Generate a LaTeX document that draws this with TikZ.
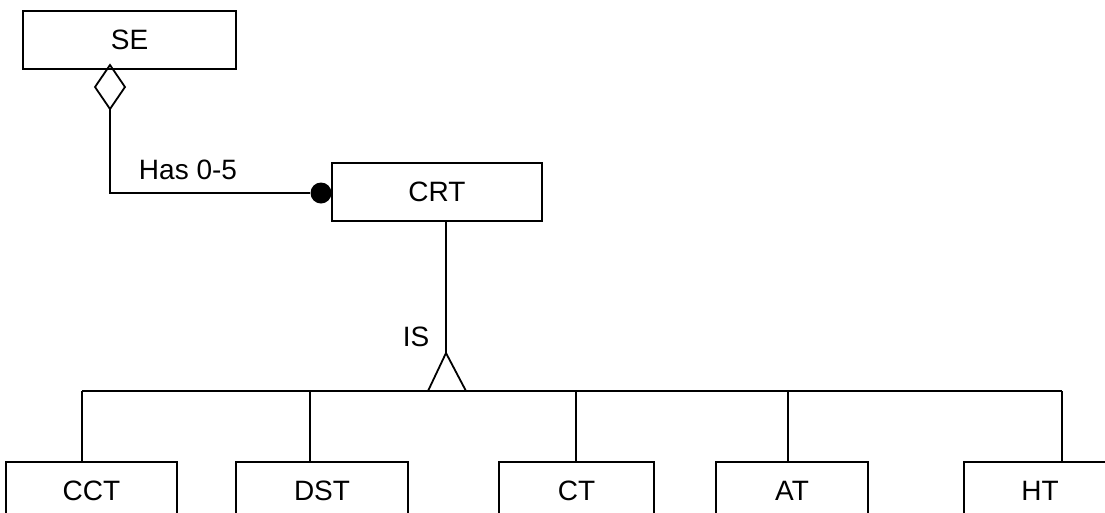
\documentclass[tikz,border=0pt]{standalone}
\usepackage{fontspec}
\setmainfont{Liberation Sans}
\usetikzlibrary{calc}
\begin{document}
\begin{tikzpicture}[x=1pt,y=-1pt,
  box/.style={draw,line width=1.8pt,rectangle,minimum height=58pt,inner sep=0pt,font=\fontsize{28}{30}\selectfont},
  conn/.style={line width=1.8pt},
  lbl/.style={font=\fontsize{28}{30}\selectfont,inner sep=0pt}]
\useasboundingbox (0,0) rectangle (1105,512);
\node[box,minimum width=213pt] (SE) at (129.5,40) {SE};
\node[box,minimum width=210pt] (CRT) at (437,192) {CRT};
\node[box,minimum width=171pt] (CCT) at (91.5,491) {CCT};
\node[box,minimum width=172pt] (DST) at (322,491) {DST};
\node[box,minimum width=155pt] (CT) at (576.5,491) {CT};
\node[box,minimum width=152pt] (AT) at (792,491) {AT};
\node[box,minimum width=152pt] (HT) at (1040,491) {HT};
% aggregation
\coordinate (dtop) at (110,65);
\coordinate (dbot) at (110,109);
\draw[conn] (dtop) -- (125,87) -- (dbot) -- (95,87) -- cycle;
\node[circle,fill=black,minimum size=21pt,inner sep=0pt] (dot) at (321,193) {};
\draw[conn] (dbot) |- (dot);
\node[lbl] (has) at (188,170) {Has 0-5};
% generalisation
\coordinate (apex) at (446,353);
\coordinate (bl) at (428,391);
\coordinate (br) at (466,391);
\draw[conn] (446,0 |- CRT.south) -- (apex);
\draw[conn] (bl) -- (apex) -- (br);
\node[lbl] (is) at (416,337) {IS};
\coordinate (barL) at (82,391);
\coordinate (barR) at (1062,391);
\draw[conn] (barL) -- (barR);
\draw[conn] (barL) -- (barL |- CCT.north);
\draw[conn] (310,391) -- (310,0 |- DST.north);
\draw[conn] (576,391) -- (576,0 |- CT.north);
\draw[conn] (788,391) -- (788,0 |- AT.north);
\draw[conn] (barR) -- (barR |- HT.north);
\end{tikzpicture}
\end{document}
